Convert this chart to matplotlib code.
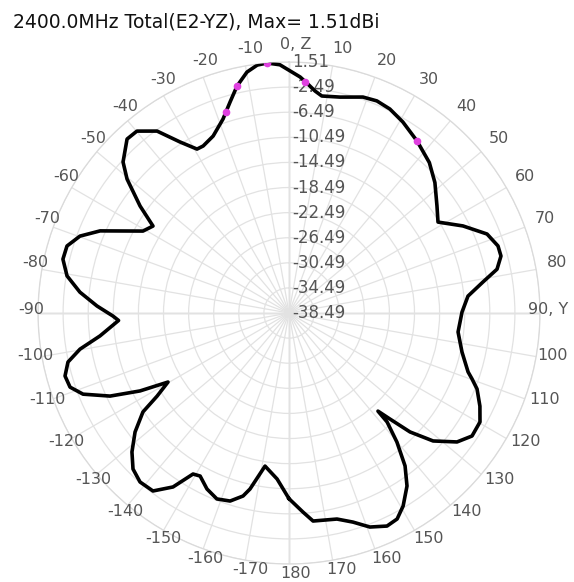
import numpy as np
import matplotlib
matplotlib.use("Agg")
import matplotlib.pyplot as plt

plt.rcParams['font.family'] = ['DejaVu Sans']

title = "2400.0MHz Total(E2-YZ), Max= 1.51dBi"

angles_deg = [-180, -175.9, -171.1, -167.5, -165.9, -162.6, -158.8, -155.0, -151.4, -149.2,
              -146.3, -142.6, -138.6, -135.0, -131.5, -127.7, -124.1, -122.2, -119.7, -117.6,
              -114.9, -111.5, -108.7, -105.7, -102.5, -99.8, -96.9, -92.5, -91.0, -87.9,
              -84.3, -80.5, -76.6, -73.2, -69.8, -66.5, -60.7, -57.4, -54.3, -50.4,
              -47.7, -42.95, -39.9, -35.95, -32.5, -29.3, -27.2, -23.2, -18.8, -15.6,
              -12.9, -9.9, -7.3, -5.0, -2.1, 2.7, 4.7, 6.7, 8.6, 13.3,
              18.9, 22.5, 26.3, 30.8, 35.0, 36.7, 43.0, 48.2, 54.1, 58.6,
              63.4, 68.25, 72.2, 74.95, 78.1, 80.9, 84.6, 89.7, 96.4, 102.7,
              108.2, 109.8, 112.0, 116.0, 119.7, 123.9, 127.5, 131.6, 134.5, 136.4,
              137.8, 138.0, 140.1, 142.8, 145.7, 149.4, 152.3, 155.3, 159.3, 163.0,
              166.9, 173.4, 176.0, 180]
gain_db = [-8.9, -11.97, -13.8, -9.76, -8.42, -7.09, -6.71, -7.55, -8.9, -8.62,
           -5.17, -2.79, -2.59, -3.33, -5.07, -7.48, -10.38, -13.65, -16.29, -11.69,
           -7.05, -3.21, -1.65, -1.41, -2.41, -4.69, -8.15, -11.3, -10.44, -7.87,
           -5.0, -2.62, -1.45, -1.53, -2.99, -5.66, -11.8, -12.76, -9.26, -4.99,
           -2.73, -0.61, -0.70, -2.67, -6.17, -8.53, -8.56, -7.8, -5.84, -3.57,
           -1.38, 0.49, 1.35, 1.51, 1.1, -0.83, -1.87, -2.87, -3.51, -3.13,
           -2.11, -1.9, -2.22, -3.05, -4.0, -4.32, -5.7, -7.3, -9.38, -10.67,
           -7.49, -4.51, -3.51, -3.51, -4.61, -7.18, -9.84, -10.92, -11.38, -10.23,
           -8.45, -7.49, -6.17, -4.64, -3.45, -3.35, -4.74, -7.78, -11.45, -15.16,
           -17.39, -15.13, -11.68, -7.9, -5.12, -2.76, -1.42, -1.12, -2.03, -3.65,
           -4.78, -5.12, -6.7, -8.9]

marker_angles = [-5.0, -12.9, -17.3, 4.0, 36.7]
marker_gain = [1.51, -1.38, -4.9, -1.6, -4.32]

r_min, r_max, r_step = -38.49, 1.51, 4.0
r_ticks = [r_min + r_step * k for k in range(1, 11)]
r_values = [r_min + r_step * k for k in range(0, 11)]
theta_ticks = list(range(0, 360, 10))
theta_label_r = 3.74

def theta_label(a):
    if a == 0:
        return "0, Z"
    if a == 90:
        return "90, Y"
    if a <= 180:
        return str(a)
    return str(a - 360)

fig = plt.figure(figsize=(5.74, 5.82), dpi=100)
ax = fig.add_axes([0.0662, 0.0309, 0.8746, 0.8625], projection='polar')
ax.set_theta_zero_location('N')
ax.set_theta_direction(-1)
ax.set_ylim(r_min, r_max)

ax.set_thetagrids(theta_ticks, [""] * len(theta_ticks))
ax.set_rgrids(r_ticks, [""] * len(r_ticks))
ax.grid(True, color='#e2e2e2', linewidth=0.9)
ax.spines['polar'].set_color('#dadada')
ax.spines['polar'].set_linewidth(0.9)
ax.tick_params(axis='both', length=0)

# darker main axes
for a in [0, 90, 180, 270]:
    ax.plot([np.deg2rad(a), np.deg2rad(a)], [r_min, r_max], color='#c6c6c6', lw=1.0, zorder=1)

# angular labels
theta_anns = []
for a in theta_ticks:
    t = ax.annotate(theta_label(a), xy=(np.deg2rad(a), theta_label_r), xytext=(5.0, 2.9),
                    textcoords='offset points', ha='center', va='center',
                    fontsize=11.5, color='#555555', annotation_clip=False)
    theta_anns.append(t)

# radial labels along 0 deg
for rv in r_values:
    ax.annotate("%.2f" % rv, xy=(0, rv), xytext=(2.5, 0), textcoords='offset points',
                ha='left', va='center', fontsize=12, color='#555555',
                annotation_clip=False, zorder=3)

ax.plot(np.deg2rad(angles_deg), gain_db, color='black', lw=2.6, zorder=4,
        solid_joinstyle='round')
ax.plot(np.deg2rad(marker_angles), marker_gain, linestyle='none', marker='o',
        markersize=4.5, color='#e040e0', zorder=5)

fig.text(0.0226, 0.963, title, fontsize=13.5, color='#111111', ha='left', va='center')

# keep angular labels inside the canvas (as the reference does)
fig.canvas.draw()
renderer = fig.canvas.get_renderer()
W = fig.bbox.width
for t in theta_anns:
    bb = t.get_window_extent(renderer)
    dx_px = 0.0
    if bb.x1 > W - 6:
        dx_px = (W - 6) - bb.x1
    elif bb.x0 < 16:
        dx_px = 16 - bb.x0
    if dx_px != 0.0:
        ox, oy = t.xyann
        t.xyann = (ox + dx_px * 72.0 / fig.dpi, oy)

fig.savefig('out.png', dpi=100)
